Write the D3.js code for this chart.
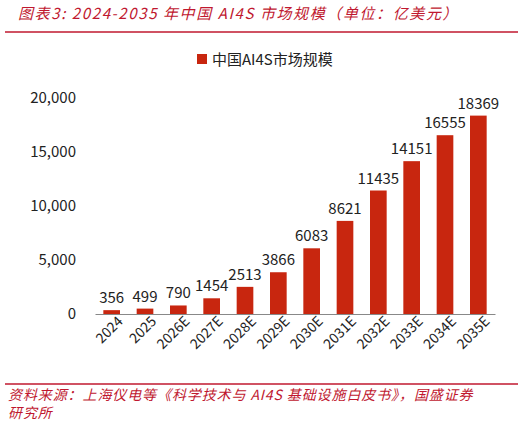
<!DOCTYPE html>
<html>
<head>
<meta charset="utf-8">
<script src="https://cdn.jsdelivr.net/npm/d3@7"></script>
<style>
body{margin:0;background:#fff;}
text{font-family:"Noto Sans CJK SC","Noto Sans",sans-serif;}
</style>
</head>
<body>
<script>
let years = ["2024","2025","2026E","2027E","2028E","2029E","2030E","2031E","2032E","2033E","2034E","2035E"];
let values = [356,499,790,1454,2513,3866,6083,8621,11435,14151,16555,18369];
let yTicks = [0,5000,10000,15000,20000];

let w = 525, h = 428;
let svg = d3.select("body").append("svg").attr("width", w).attr("height", h);

// title
svg.append("text").attr("x",18).attr("y",19).attr("fill","#c0182f")
   .attr("font-size",15).attr("font-style","italic").attr("letter-spacing",1.6)
   .text("图表3:  2024-2035 年中国 AI4S 市场规模（单位：亿美元）");
svg.append("line").attr("x1",5).attr("x2",518).attr("y1",32).attr("y2",32)
   .attr("stroke","#c0182f").attr("stroke-width",1.5);

// legend
svg.append("rect").attr("x",197).attr("y",54).attr("width",10).attr("height",10).attr("fill","#c8260f");
svg.append("text").attr("x",212).attr("y",65).attr("font-size",15).attr("fill","#222").text("中国AI4S市场规模");

let x = d3.scaleBand().domain(years).range([95,495]).paddingInner(0.5).paddingOuter(0.25);
let y = d3.scaleLinear().domain([0,20000]).range([314,98]);

svg.append("g").attr("transform","translate(80,0)")
   .call(d3.axisLeft(y).tickValues(yTicks).tickFormat(d3.format(",")).tickSize(0).tickPadding(4))
   .call(g=>g.select(".domain").remove())
   .selectAll("text").attr("font-size",15).attr("fill","#222");

svg.selectAll("rect.bar").data(values).enter().append("rect").attr("class","bar")
   .attr("x",(d,i)=>x(years[i])).attr("width",x.bandwidth())
   .attr("y",d=>y(d)).attr("height",d=>314-y(d)).attr("fill","#c8260f");

svg.selectAll("text.val").data(values).enter().append("text").attr("class","val")
   .attr("x",(d,i)=>x(years[i])+x.bandwidth()/2).attr("y",d=>y(d)-7)
   .attr("text-anchor","middle").attr("font-size",15).attr("fill","#222").text(d=>d);

let xa = svg.append("g").attr("transform","translate(0,314)")
   .call(d3.axisBottom(x).tickSize(0).tickPadding(6));
xa.select(".domain").attr("stroke","#888");
xa.selectAll("text").attr("font-size",14).attr("fill","#222")
   .attr("text-anchor","end").attr("dx","0.2em").attr("dy","0.6em").attr("transform","rotate(-45)");

// source
svg.append("line").attr("x1",5).attr("x2",518).attr("y1",384).attr("y2",384)
   .attr("stroke","#c0182f").attr("stroke-width",1.5);
svg.append("text").attr("x",8).attr("y",400).attr("fill","#c0182f").attr("font-size",14).attr("font-style","italic")
   .attr("letter-spacing",0.9)
   .text("资料来源：上海仪电等《科学技术与 AI4S 基础设施白皮书》，国盛证券");
svg.append("text").attr("x",8).attr("y",418).attr("fill","#c0182f").attr("font-size",14).attr("font-style","italic")
   .attr("letter-spacing",0.9)
   .text("研究所");
</script>
</body>
</html>
